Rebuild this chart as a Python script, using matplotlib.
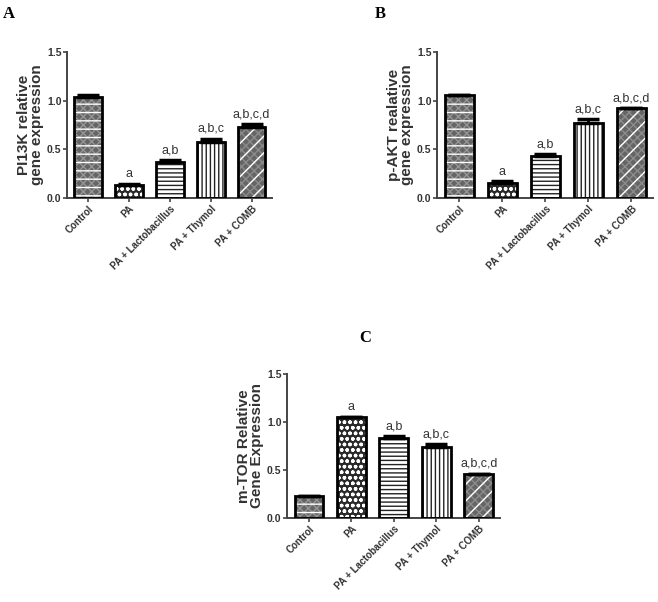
import matplotlib
matplotlib.use("Agg")
import matplotlib.pyplot as plt
import numpy as np

# groups (same for all three panels)
groups = ['Control', 'PA', 'PA + Lactobacillus', 'PA + Thymol', 'PA + COMB']

# panel A: PI13K
pi3k_vals = [1.04, 0.13, 0.37, 0.58, 0.73]
pi3k_err = [0.02, 0.01, 0.02, 0.03, 0.03]
pi3k_sig = ['', 'a', 'a,b', 'a,b,c', 'a,b,c,d']

# panel B: p-AKT
pakt_vals = [1.06, 0.15, 0.43, 0.77, 0.92]
pakt_err = [0.00, 0.02, 0.02, 0.04, 0.00]
pakt_sig = ['', 'a', 'a,b', 'a,b,c', 'a,b,c,d']

# panel C: m-TOR
mtor_vals = [0.23, 1.05, 0.83, 0.74, 0.46]
mtor_err = [0.00, 0.00, 0.02, 0.03, 0.00]
mtor_sig = ['', 'a', 'a,b', 'a,b,c', 'a,b,c,d']

# fill layers per bar: (facecolor, hatch, hatch colour)
styles = [
    [('#656565', 'xxxx', '#959595'), ('none', '--', 'white')],
    [('#2a2a2a', 'ooo', 'white')],
    [('white', '----', '#222222')],
    [('white', '||||', '#222222')],
    [('#656565', 'xxxx', '#8c8c8c'), ('none', '//', 'white')],
]

txt_col = '#333333'


def panel(ax, vals, err, sig, ylabel, tag, tag_xy, tag_fig):
    x = np.arange(len(groups))
    w = 0.68
    for i in x:
        for fc, hatch, hc in styles[i]:
            ax.bar(x[i], vals[i], w, color=fc, hatch=hatch, edgecolor=hc, linewidth=0, zorder=2)
    ax.bar(x, vals, w, fill=False, edgecolor='black', linewidth=2, zorder=3)
    ax.errorbar(x, vals, yerr=[np.zeros(len(err)), err], fmt='none', ecolor='black',
                elinewidth=2, capsize=8, capthick=2.5, zorder=4)
    for i in x:
        if sig[i]:
            ax.text(x[i], vals[i] + err[i] + 0.04, sig[i], ha='center', va='bottom',
                    fontsize=9, color=txt_col, family='Liberation Sans')

    ax.set_ylim(0, 1.5)
    ax.set_xlim(-0.52, 4.5)
    ax.set_yticks([0.0, 0.5, 1.0, 1.5])
    ax.set_yticklabels(['0.0', '0.5', '1.0', '1.5'], fontsize=7.5, fontweight='bold', color=txt_col)
    ax.set_xticks(x)
    ax.set_xticklabels(groups, rotation=45, ha='right', rotation_mode='anchor',
                       fontsize=7, fontweight='bold', color=txt_col)
    ax.set_ylabel(ylabel, fontsize=11, fontweight='bold', color=txt_col, linespacing=0.95,
                  labelpad=2)
    for s in ['top', 'right']:
        ax.spines[s].set_visible(False)
    for s in ['left', 'bottom']:
        ax.spines[s].set_linewidth(1.4)
        ax.spines[s].set_color('#444444')
    ax.tick_params(axis='both', length=3, width=1.2, color='#444444', pad=1)
    tag_fig.text(tag_xy[0], tag_xy[1], tag, fontsize=12, fontweight='bold',
                 family='Liberation Serif', ha='left', va='top')


plt.rcParams['font.family'] = ['Liberation Sans', 'DejaVu Sans']

fig = plt.figure(figsize=(6.58, 6.02), dpi=100)
W, H = 658, 602


def axes_px(l, r, t, b):
    return fig.add_axes([l / W, 1 - b / H, (r - l) / W, (b - t) / H])


axA = axes_px(67, 272, 52, 198)
axB = axes_px(437, 653, 52, 198)
axC = axes_px(287, 500, 374, 518)

panel(axA, pi3k_vals, pi3k_err, pi3k_sig, 'PI13K relative\ngene expression', 'A',
      (3 / W, 1 - 6 / H), fig)
panel(axB, pakt_vals, pakt_err, pakt_sig, 'p-AKT realative\ngene expression', 'B',
      (375 / W, 1 - 6 / H), fig)
panel(axC, mtor_vals, mtor_err, mtor_sig, 'm-TOR Relative\nGene Expression', 'C',
      (359 / W, 1 - 330 / H), fig)

fig.savefig('out.png', dpi=100)
